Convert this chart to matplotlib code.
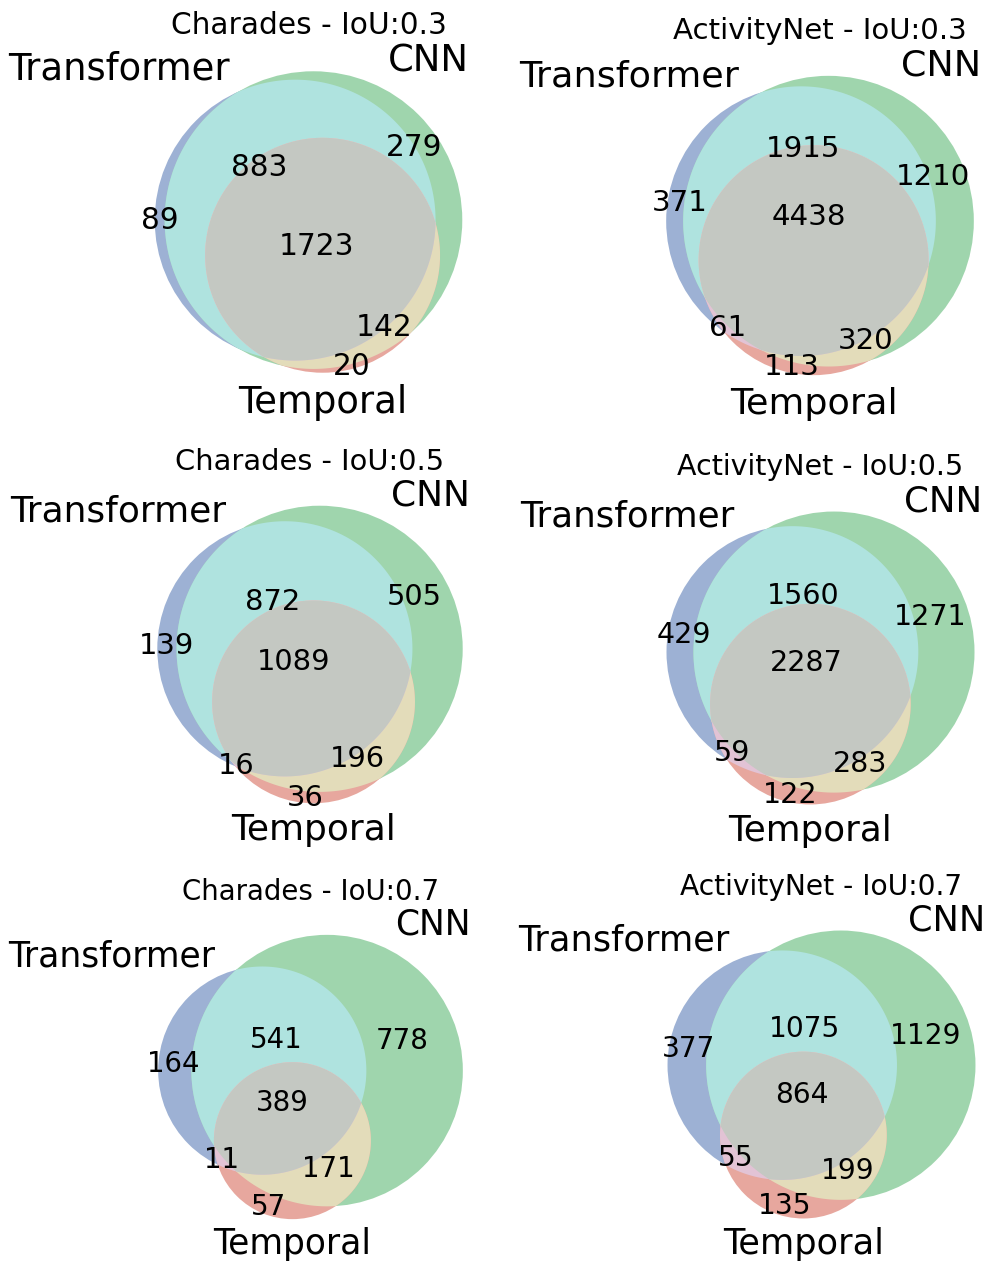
import numpy as np
import matplotlib
matplotlib.use("Agg")
import matplotlib.pyplot as plt
from matplotlib.patches import Circle, Polygon
from matplotlib.colors import to_rgb
from matplotlib.transforms import offset_copy

plt.rcParams["font.family"] = ["DejaVu Sans"]

# ---- data -------------------------------------------------------------
set_names = ["Transformer", "CNN", "Temporal"]
titles = [
    "Charades - IoU:0.3", "ActivityNet - IoU:0.3",
    "Charades - IoU:0.5", "ActivityNet - IoU:0.5",
    "Charades - IoU:0.7", "ActivityNet - IoU:0.7",
]
# subset order: (Tr only, CNN only, Tr&CNN, Temp only, Tr&Temp, CNN&Temp, all)
charades_03 = [89, 279, 883, 20, 0, 142, 1723]
activitynet_03 = [371, 1210, 1915, 113, 61, 320, 4438]
charades_05 = [139, 505, 872, 36, 16, 196, 1089]
activitynet_05 = [429, 1271, 1560, 122, 59, 283, 2287]
charades_07 = [164, 778, 541, 57, 11, 171, 389]
activitynet_07 = [377, 1129, 1075, 135, 55, 199, 864]
subsets_all = [charades_03, activitynet_03, charades_05,
               activitynet_05, charades_07, activitynet_07]

set_colors = ["#4C72B0", "#50B26A", "#D45F4E"]
ALPHA = 0.55

# ---- layout (pixels) ----------------------------------------------------
FIG_W, FIG_H, DPI = 985, 1263, 100
# circle extents per panel: left, top, right, bottom
panel_boxes = [
    (155, 71, 462, 373), (666, 76, 974, 375),
    (157, 506, 463, 803), (666, 512, 975, 804),
    (158, 935, 463, 1219), (667, 931, 976, 1218),
]
panel_text_scale = [1.0, 0.988, 0.975, 0.965, 0.934, 0.951]
title_gaps = [37, 37, 36, 37, 35, 36]
BASE_FS = 21.3
LABEL_FS = 26.6
FIRST_LABEL_SHIFT = 5


# ---- venn geometry ------------------------------------------------------
def lens_area(r1, r2, d):
    if d >= r1 + r2:
        return 0.0
    if d <= abs(r1 - r2):
        return np.pi * min(r1, r2) ** 2
    a1 = r1 ** 2 * np.arccos((d * d + r1 * r1 - r2 * r2) / (2 * d * r1))
    a2 = r2 ** 2 * np.arccos((d * d + r2 * r2 - r1 * r1) / (2 * d * r2))
    a3 = 0.5 * np.sqrt((-d + r1 + r2) * (d + r1 - r2) * (d - r1 + r2) * (d + r1 + r2))
    return a1 + a2 - a3


def distance_for_area(r1, r2, area):
    lo, hi = abs(r1 - r2), r1 + r2
    if area >= lens_area(r1, r2, lo) - 1e-12:
        return lo
    for _ in range(200):
        mid = 0.5 * (lo + hi)
        if lens_area(r1, r2, mid) > area:
            lo = mid
        else:
            hi = mid
    return 0.5 * (lo + hi)


def solve_venn3(subsets):
    s = np.array(subsets, float)
    s = s / s.sum()
    A_a = s[0] + s[2] + s[4] + s[6]
    A_b = s[1] + s[2] + s[5] + s[6]
    A_c = s[3] + s[4] + s[5] + s[6]
    A_ab, A_bc, A_ac = s[2] + s[6], s[5] + s[6], s[4] + s[6]
    radii = np.sqrt(np.array([A_a, A_b, A_c]) / np.pi)
    areas = [A_ab, A_bc, A_ac]
    dists = [distance_for_area(radii[i], radii[j], areas[k])
             for k, (i, j) in enumerate([(0, 1), (1, 2), (2, 0)])]
    for i in range(3):
        j, k = (i + 1) % 3, (i + 2) % 3
        if dists[i] > dists[j] + dists[k]:
            a, b = (j, k) if dists[j] < dists[k] else (k, j)
            dists[i] = dists[b] + dists[a] * 0.8
    d_ab, d_bc, d_ac = dists
    cx = (d_ac ** 2 - d_bc ** 2 + d_ab ** 2) / (2.0 * d_ab)
    cy = -np.sqrt(max(d_ac ** 2 - cx ** 2, 0.0))
    centers = np.array([[0.0, 0.0], [d_ab, 0.0], [cx, cy]])
    w = radii ** 2
    centers = centers - np.dot(w, centers) / w.sum()
    return centers, radii


def disc_intersection(centers, radii, idx, n=1500):
    pts = []
    t = np.linspace(0, 2 * np.pi, n, endpoint=False)
    for i in idx:
        p = centers[i] + radii[i] * np.column_stack([np.cos(t), np.sin(t)])
        ok = np.ones(n, bool)
        for j in idx:
            if j != i:
                ok &= np.hypot(*(p - centers[j]).T) <= radii[j] + 1e-12
        pts.append(p[ok])
    pts = np.vstack(pts)
    if len(pts) < 3:
        return None
    m = pts.mean(axis=0)
    order = np.argsort(np.arctan2(pts[:, 1] - m[1], pts[:, 0] - m[0]))
    return pts[order]


def region_arcs(centers, radii, member, n=7200):
    """Boundary arcs of one region (points, angular span), region on the left."""
    t = np.linspace(0, 2 * np.pi, n, endpoint=False)
    step = 2 * np.pi / n
    arcs = []
    for i in range(3):
        p = centers[i] + radii[i] * np.column_stack([np.cos(t), np.sin(t)])
        mask = np.ones(n, bool)
        for j in range(3):
            if j != i:
                inside = np.hypot(*(p - centers[j]).T) < radii[j]
                mask &= inside == bool(member[j])
        if not mask.any():
            continue
        if mask.all():
            pts = p if member[i] else p[::-1]
            arcs.append((pts, 2 * np.pi, True))
            continue
        start = int(np.argmin(mask))
        rolled = np.roll(mask, -start)
        k = 0
        while k < n:
            if rolled[k]:
                e = k
                while e + 1 < n and rolled[e + 1]:
                    e += 1
                ids = (np.arange(k, e + 1) + start) % n
                pts = p[ids] if member[i] else p[ids][::-1]
                arcs.append((pts, (e - k + 1) * step, False))
                k = e + 1
            else:
                k += 1
    return arcs


def region_label_pos(centers, radii, member):
    arcs = region_arcs(centers, radii, member)
    if not arcs:
        return None
    # chain arcs into closed pieces
    loops = []
    unused = list(range(len(arcs)))
    while unused:
        a = unused.pop(0)
        loop = [a]
        if not arcs[a][2]:
            while unused:
                end = arcs[loop[-1]][0][-1]
                d_close = np.hypot(*(end - arcs[loop[0]][0][0]))
                dists = [np.hypot(*(end - arcs[u][0][0])) for u in unused]
                best = int(np.argmin(dists))
                if dists[best] < d_close:
                    loop.append(unused.pop(best))
                else:
                    break
        loops.append(loop)
    # label the largest piece
    best_loop, best_area = None, -1.0
    for loop in loops:
        poly = np.vstack([arcs[a][0] for a in loop])
        x, y = poly[:, 0], poly[:, 1]
        area = 0.5 * abs(np.dot(x, np.roll(y, -1)) - np.dot(y, np.roll(x, -1)))
        if area > best_area:
            best_loop, best_area = loop, area
    mids = np.array([arcs[a][0][len(arcs[a][0]) // 2] for a in best_loop])
    if len(best_loop) == 2:
        # lens / crescent: halfway between the two arc midpoints
        return mids.mean(axis=0)
    spans = np.array([arcs[a][1] for a in best_loop])
    return np.average(mids, axis=0, weights=spans)


def blend(rgb):
    rgb = np.minimum(rgb, 1.0)
    return (1 - ALPHA) * np.ones(3) + ALPHA * rgb


base = [np.array(to_rgb(c)) for c in set_colors]
region_members = [(1, 0, 0), (0, 1, 0), (1, 1, 0), (0, 0, 1),
                  (1, 0, 1), (0, 1, 1), (1, 1, 1)]

fig = plt.figure(figsize=(FIG_W / DPI, FIG_H / DPI), dpi=DPI)

for k, subsets in enumerate(subsets_all):
    f = panel_text_scale[k]
    centers, radii = solve_venn3(subsets)
    xmin = (centers[:, 0] - radii).min()
    xmax = (centers[:, 0] + radii).max()
    ymin = (centers[:, 1] - radii).min()
    ymax = (centers[:, 1] + radii).max()
    l, t, r, b = panel_boxes[k]
    s = 0.5 * ((r - l) / (xmax - xmin) + (b - t) / (ymax - ymin))
    margin = 0.1
    x0, x1 = xmin - margin, xmax + margin
    y0, y1 = ymin - margin, ymax + margin
    cxp, cyp = 0.5 * (l + r), 0.5 * (t + b)
    wp, hp = s * (x1 - x0), s * (y1 - y0)
    dcx, dcy = 0.5 * (xmin + xmax), 0.5 * (ymin + ymax)
    left_px = cxp - s * (dcx - x0)
    top_px = cyp - s * (y1 - dcy)
    ax = fig.add_axes([left_px / FIG_W, 1 - (top_px + hp) / FIG_H,
                       wp / FIG_W, hp / FIG_H])
    ax.set_xlim(x0, x1)
    ax.set_ylim(y0, y1)
    ax.set_axis_off()

    # single-set areas
    for i in range(3):
        ax.add_patch(Circle(centers[i], radii[i], facecolor=blend(base[i]),
                            edgecolor="none", zorder=1))
    # pairwise overlaps
    for (i, j) in [(0, 1), (1, 2), (0, 2)]:
        poly = disc_intersection(centers, radii, [i, j])
        if poly is not None:
            ax.add_patch(Polygon(poly, closed=True,
                                 facecolor=blend(0.7 * (base[i] + base[j])),
                                 edgecolor="none", zorder=2))
    # triple overlap
    poly = disc_intersection(centers, radii, [0, 1, 2])
    if poly is not None:
        ax.add_patch(Polygon(poly, closed=True,
                             facecolor=blend(0.4 * (base[0] + base[1] + base[2])),
                             edgecolor="none", zorder=3))

    # subset counts
    for val, mem in zip(subsets, region_members):
        if val == 0:
            continue
        pos = region_label_pos(centers, radii, mem)
        if pos is None:
            continue
        ax.text(pos[0], pos[1], str(val), ha="center", va="center",
                fontsize=BASE_FS * f, zorder=5)

    # set names
    tr_first = offset_copy(ax.transData, fig=fig, x=FIRST_LABEL_SHIFT * f, y=0,
                           units="dots")
    ax.text(centers[0, 0] - radii[0] / 2, centers[0, 1] + radii[0], set_names[0],
            ha="right", va="baseline", fontsize=LABEL_FS * f, transform=tr_first)
    ax.text(centers[1, 0] + radii[1] / 2, centers[1, 1] + radii[1], set_names[1],
            ha="left", va="baseline", fontsize=LABEL_FS * f)
    ax.text(centers[2, 0], centers[2, 1] - radii[2] * 1.1, set_names[2],
            ha="center", va="top", fontsize=LABEL_FS * f)

    # panel title
    tr = offset_copy(ax.transData, fig=fig, x=0, y=title_gaps[k], units="dots")
    ax.text(dcx, ymax, titles[k], transform=tr, ha="center", va="baseline",
            fontsize=BASE_FS * f)

fig.savefig("out.png", dpi=DPI)
